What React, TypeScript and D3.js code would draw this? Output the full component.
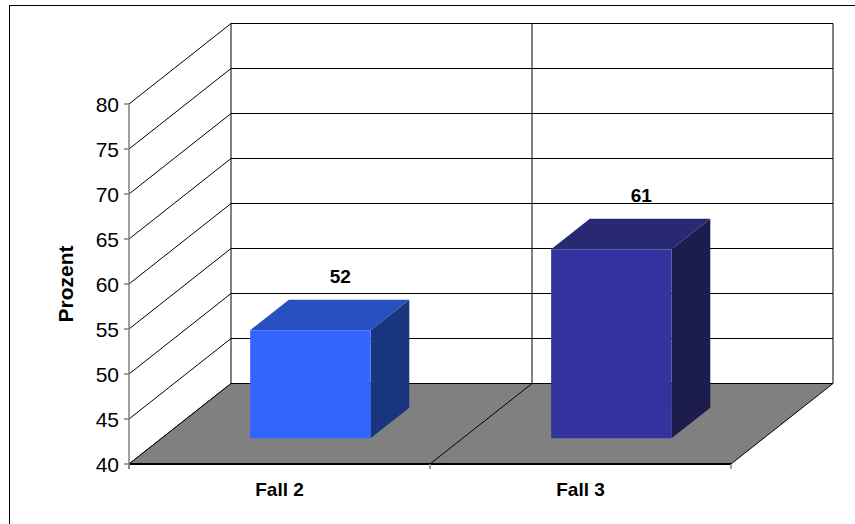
import React from "react";
import * as d3 from "d3";

// Chart data
const categories: string[] = ["Fall 2", "Fall 3"];
const values: number[] = [52, 61];
const yTicks: number[] = [40, 45, 50, 55, 60, 65, 70, 75, 80];
const yTitle = "Prozent";

// Bar face colours: front, top, side
const frontColors = ["#3366FF", "#3333A0"];
const topColors = ["#2650C0", "#282873"];
const sideColors = ["#1A3580", "#1C1C4D"];

const W = 855;
const H = 524;
const FONT = "Arial, 'Liberation Sans', sans-serif";

// Oblique 3D projection: depth t in [0,1] shifts points right/up
const DX = 102;
const DY = 80.5;
const FRONT_X0 = 129;
const FRONT_X1 = 731;

const y = d3.scaleLinear().domain([40, 80]).range([464, 104]);
const x = d3
  .scaleBand<string>()
  .domain(categories)
  .range([FRONT_X0, FRONT_X1])
  .paddingInner(0.6)
  .paddingOuter(0.3)
  .align(0.49);
const xCat = d3.scaleBand<string>().domain(categories).range([FRONT_X0, FRONT_X1]);

const proj = (px: number, v: number, t: number): [number, number] => [
  px + t * DX,
  y(v) - t * DY,
];
const pts = (arr: [number, number][]) => arr.map((p) => p.join(",")).join(" ");

// Bars sit between these depths
const BAR_T0 = 0.32;
const BAR_T1 = 0.7;

export default function App() {
  const yMin = 40;
  const yMax = 80;
  const floor = [
    proj(FRONT_X0, yMin, 0),
    proj(FRONT_X1, yMin, 0),
    proj(FRONT_X1, yMin, 1),
    proj(FRONT_X0, yMin, 1),
  ];
  const backRight = FRONT_X1 + DX;
  const midFront = xCat(categories[1]) as number;

  return (
    <svg
      width={W}
      height={H}
      style={{ position: "absolute", left: 0, top: 0, background: "#fff" }}
      fontFamily={FONT}
    >
      {/* outer frame */}
      <rect x={9.5} y={5.5} width={860} height={530} fill="#fff" stroke="#000" strokeWidth={1} />

      {/* back wall gridlines */}
      {yTicks.map((v) => {
        const [x0, yy] = proj(FRONT_X0, v, 1);
        return (
          <line key={"bg" + v} x1={x0} x2={backRight} y1={yy} y2={yy} stroke="#000" strokeWidth={1} />
        );
      })}
      {/* side wall gridlines */}
      {yTicks.map((v) => {
        const [ax, ay] = proj(FRONT_X0, v, 0);
        const [bx, by] = proj(FRONT_X0, v, 1);
        return <line key={"sg" + v} x1={ax} y1={ay} x2={bx} y2={by} stroke="#000" strokeWidth={1} />;
      })}
      {/* back wall verticals */}
      {[FRONT_X0, midFront, FRONT_X1].map((fx, i) => {
        const [bx, top] = proj(fx, yMax, 1);
        const [, bot] = proj(fx, yMin, 1);
        return <line key={"bv" + i} x1={bx} x2={bx} y1={top} y2={bot} stroke="#000" strokeWidth={1} />;
      })}

      {/* floor */}
      <polygon points={pts(floor as [number, number][])} fill="#808080" stroke="#000" strokeWidth={1} />
      <line x1={FRONT_X0} x2={FRONT_X1} y1={y(yMin)} y2={y(yMin)} stroke="#000" strokeWidth={2} />
      {(() => {
        const [ax, ay] = proj(midFront, yMin, 0);
        const [bx, by] = proj(midFront, yMin, 1);
        return <line x1={ax} y1={ay} x2={bx} y2={by} stroke="#000" strokeWidth={1} />;
      })()}

      {/* value axis */}
      <line x1={FRONT_X0} x2={FRONT_X0} y1={y(yMax)} y2={y(yMin) + 5} stroke="#808080" strokeWidth={1.5} />
      {yTicks.map((v) => (
        <g key={"t" + v}>
          <line x1={FRONT_X0 - 5} x2={FRONT_X0} y1={y(v)} y2={y(v)} stroke="#808080" strokeWidth={1.5} />
          <text x={119} y={y(v)} dy="0.36em" textAnchor="end" fontSize={21} fill="#000">
            {v}
          </text>
        </g>
      ))}
      {/* category ticks */}
      {[FRONT_X0, midFront, FRONT_X1].map((fx, i) => (
        <line key={"ct" + i} x1={fx} x2={fx} y1={y(yMin)} y2={y(yMin) + 5} stroke="#808080" strokeWidth={1.5} />
      ))}

      {/* bars */}
      {categories.map((c, i) => {
        const v = values[i];
        const x0 = x(c) as number;
        const x1 = x0 + x.bandwidth();
        const front = [proj(x0, yMin, BAR_T0), proj(x1, yMin, BAR_T0), proj(x1, v, BAR_T0), proj(x0, v, BAR_T0)];
        const top = [proj(x0, v, BAR_T0), proj(x1, v, BAR_T0), proj(x1, v, BAR_T1), proj(x0, v, BAR_T1)];
        const side = [proj(x1, yMin, BAR_T0), proj(x1, yMin, BAR_T1), proj(x1, v, BAR_T1), proj(x1, v, BAR_T0)];
        const [fcx, fty] = proj((x0 + x1) / 2, v, BAR_T0);
        return (
          <g key={c}>
            <polygon points={pts(side as [number, number][])} fill={sideColors[i]} />
            <polygon points={pts(top as [number, number][])} fill={topColors[i]} />
            <polygon points={pts(front as [number, number][])} fill={frontColors[i]} />
            <text x={fcx + 30} y={fty - 47} textAnchor="middle" fontSize={19} fontWeight="bold" fill="#000">
              {v}
            </text>
          </g>
        );
      })}

      {/* category labels */}
      {categories.map((c) => (
        <text
          key={"cl" + c}
          x={(xCat(c) as number) + xCat.bandwidth() / 2}
          y={496}
          textAnchor="middle"
          fontSize={19}
          fontWeight="bold"
          fill="#000"
        >
          {c}
        </text>
      ))}

      {/* axis title */}
      <text
        transform={`translate(73, ${(y(yMin) + y(yMax)) / 2}) rotate(-90)`}
        textAnchor="middle"
        fontSize={21}
        fontWeight="bold"
        fill="#000"
      >
        {yTitle}
      </text>
    </svg>
  );
}
